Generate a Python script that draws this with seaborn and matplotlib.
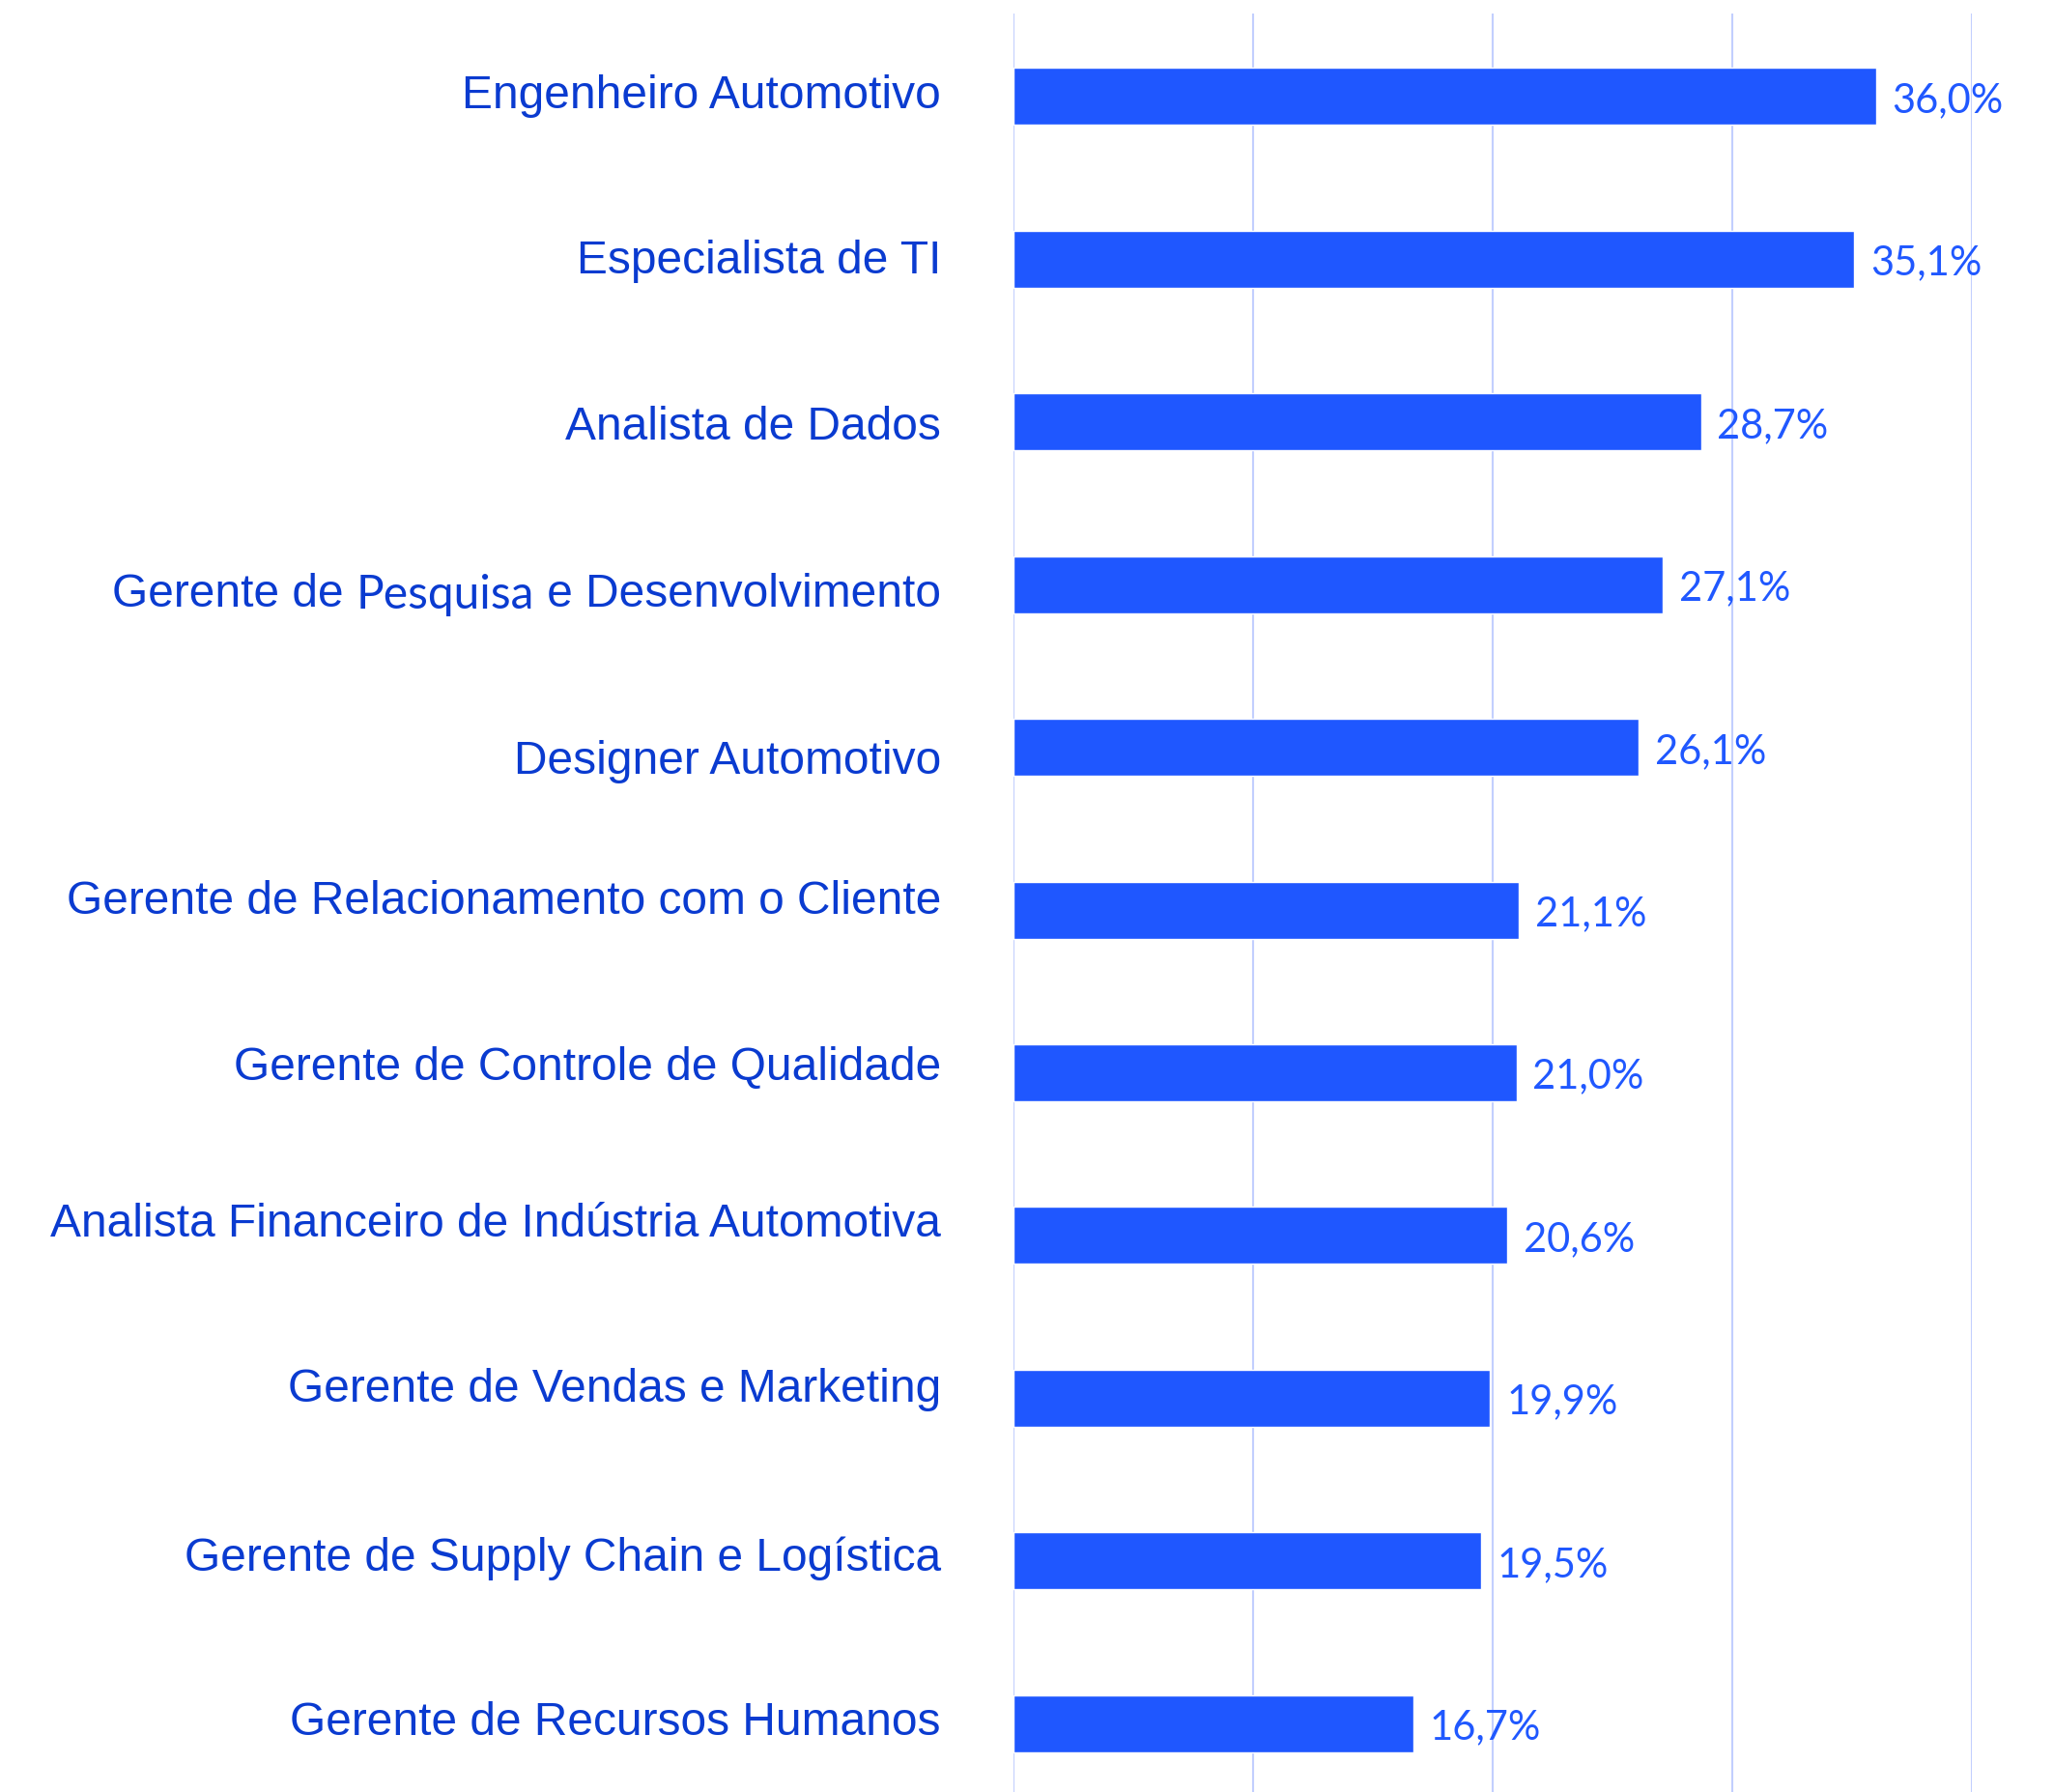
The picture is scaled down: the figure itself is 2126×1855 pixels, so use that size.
import matplotlib
matplotlib.use('Agg')
import matplotlib.pyplot as plt
import seaborn as sns

cargos = ['Engenheiro Automotivo',
          'Especialista de TI',
          'Analista de Dados',
          'Gerente de Pesquisa e Desenvolvimento',
          'Designer Automotivo',
          'Gerente de Relacionamento com o Cliente',
          'Gerente de Controle de Qualidade',
          'Analista Financeiro de Indústria Automotiva',
          'Gerente de Vendas e Marketing',
          'Gerente de Supply Chain e Logística',
          'Gerente de Recursos Humanos']
valores = [36.0, 35.1, 28.7, 27.1, 26.1, 21.1, 21.0, 20.6, 19.9, 19.5, 16.7]
grade = [0, 10, 20, 30, 40]

# pequenos deslocamentos verticais dos rótulos (pt), como no original
desloc_y = [0.5, -1.5, -4.5, -7.5, -10.5, 6.5, 3.5, 8.5, 6.5, 1.5, 0.5]

cor_barra = '#1F57FF'
cor_texto = '#0A3BD0'
cor_grade = '#C2CFFE'
fonte_rotulo = 'Liberation Sans'
tam_rotulo = 34.5
pad_rotulo = 54

sns.set_theme(style='white')
fig = plt.figure(figsize=(21.26, 18.55), dpi=100)
ax = fig.add_axes([0.4934, 0.0, 0.9600 - 0.4934, 0.9925])

sns.barplot(x=valores, y=cargos, color=cor_barra, saturation=1, width=0.35,
            orient='h', ax=ax)

ax.set_xlim(0, 40)
ax.set_ylim(10.42, -0.51)
ax.set_xticks(grade)
ax.set_xticklabels([])
ax.set_yticklabels([])
ax.grid(axis='x', color=cor_grade, linewidth=1.5)
ax.grid(axis='y', visible=False)
ax.set_axisbelow(True)
for s in ax.spines.values():
    s.set_visible(False)
ax.tick_params(axis='both', length=0)
ax.set_xlabel('')
ax.set_ylabel('')

r = fig.canvas.get_renderer()
for i, nome in enumerate(cargos):
    if 'Pesquisa' in nome:
        a, b = nome.split('Pesquisa')
        partes = [(a, fonte_rotulo, 'normal'),
                  ('Pesquisa', 'Lato', 'normal'),
                  (b, fonte_rotulo, 'normal')]
    else:
        partes = [(nome, fonte_rotulo, 'normal')]
    desloc = pad_rotulo
    for txt, fam, peso in reversed(partes):
        t = ax.annotate(txt, xy=(0, i), xycoords=('axes fraction', 'data'),
                        xytext=(-desloc, desloc_y[i]), textcoords='offset points',
                        ha='right', va='center', fontsize=tam_rotulo,
                        family=fam, fontweight=peso, color=cor_texto,
                        annotation_clip=False)
        desloc += t.get_window_extent(r).width * 72 / fig.dpi

for i, v in enumerate(valores):
    ax.annotate(f'{v:.1f}%'.replace('.', ','), xy=(v, i),
                xytext=(12, -3), textcoords='offset points',
                ha='left', va='center', fontsize=30, family='Lato',
                color='#2058FF', annotation_clip=False)

fig.savefig('out.png', dpi=100)
